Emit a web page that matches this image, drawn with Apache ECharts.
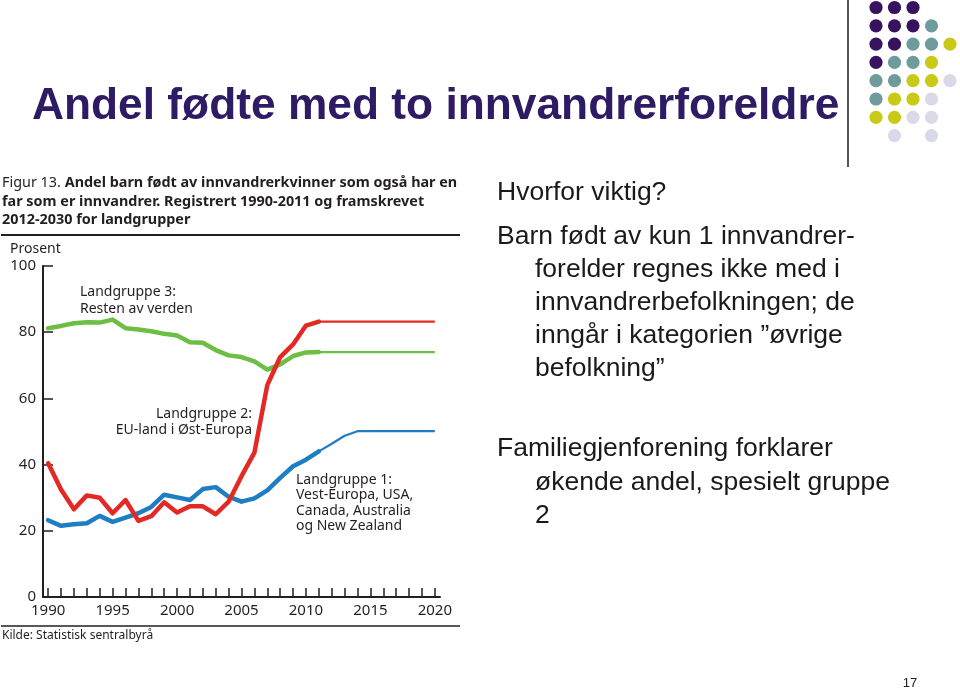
<!DOCTYPE html>
<html>
<head>
<meta charset="utf-8">
<script src="https://cdn.jsdelivr.net/npm/echarts@6/dist/echarts.min.js"></script>
<style>
html,body{margin:0;padding:0;background:#fff;}
#c{width:960px;height:690px;}
</style>
</head>
<body>
<div id="c"></div>
<script>
// ---- data ----
const histYears = [1990,1991,1992,1993,1994,1995,1996,1997,1998,1999,2000,2001,2002,2003,2004,2005,2006,2007,2008,2009,2010,2011];
const group1Hist = [23.2,21.5,22.0,22.3,24.5,22.7,24.0,25.3,27.2,30.9,30.1,29.3,32.6,33.2,30.3,28.8,29.8,32.2,36.0,39.5,41.5,44.0];
const group2Hist = [40.4,32.5,26.5,30.7,30.0,25.3,29.3,23.0,24.4,28.6,25.5,27.4,27.4,25.0,28.8,36.5,43.6,64.0,72.5,76.3,82.0,83.2];
const group3Hist = [81.2,81.9,82.7,83.0,82.9,83.8,81.2,80.8,80.3,79.5,79.0,77.0,76.8,74.6,73.0,72.5,71.2,68.7,70.3,72.8,73.9,74.0];
const projYears = [2011,2012,2013,2014,2015,2016,2017,2018,2019,2020];
const group1Proj = [44.0,46.3,48.7,50.1,50.1,50.1,50.1,50.1,50.1,50.1];
const group2Proj = [83.2,83.2,83.2,83.2,83.2,83.2,83.2,83.2,83.2,83.2];
const group3Proj = [74.0,74.0,74.0,74.0,74.0,74.0,74.0,74.0,74.0,74.0];
const xLabelYears = [1990,1995,2000,2005,2010,2015,2020];
const xTickYears = [1990,1991,1992,1993,1994,1995,1996,1997,1998,1999,2000,2001,2002,2003,2004,2005,2006,2007,2008,2009,2010,2011,2012,2013,2014,2015,2016,2017,2018,2019,2020];

const pairs = (xs, ys) => xs.map((x, i) => [x, ys[i]]);

const RED = '#E42823', GREEN = '#6CBE45', BLUE = '#1F7DC3';
const INK = '#231f20';
const CF = 'Noto Sans';
const SF = 'Liberation Sans';

// decorative dot grid (top right)
const P = '#37135F', T = '#6F9B9C', Y = '#C9C917', L = '#D9D9E8';
const dotRows = [
  [P,P,P,null,null],
  [P,P,P,T,null],
  [P,P,T,T,Y],
  [P,T,T,Y,null],
  [T,T,Y,Y,L],
  [T,Y,Y,L,null],
  [Y,Y,L,L,null],
  [null,L,null,L,null]
];
const dotEls = [];
dotRows.forEach((row, r) => row.forEach((c, k) => {
  if (c) dotEls.push({type:'circle', shape:{cx:876 + k*18.5, cy:7.5 + r*18.3, r:6.6}, style:{fill:c}});
}));

function txt(x, y, text, size, opts) {
  return {type:'text', x:x, y:y, style:Object.assign({text:text, fontSize:size, fontFamily:CF, fill:INK, verticalAlign:'middle', align:'left'}, opts || {})};
}
function stxt(x, y, text) {
  return {type:'text', x:x, y:y, style:{text:text, fontSize:26.5, fontFamily:SF, fill:'#1a1a1a', verticalAlign:'middle', align:'left'}};
}

const chart = echarts.init(document.getElementById('c'));
chart.setOption({
  backgroundColor:'#ffffff',
  animation:false,
  grid:{left:43, right:520, top:266, bottom:93, containLabel:false},
  xAxis:{
    type:'value', min:1989.6, max:2020.4,
    axisLine:{show:true, onZero:false, lineStyle:{color:INK, width:2}},
    axisTick:{show:true, inside:true, length:9, customValues:xTickYears, lineStyle:{color:INK, width:1.5}},
    axisLabel:{show:true, customValues:xLabelYears, margin:6, fontSize:15, fontFamily:CF, color:INK, formatter:v=>String(v)},
    splitLine:{show:false}
  },
  yAxis:{
    type:'value', min:0, max:100, interval:20,
    axisLine:{show:true, lineStyle:{color:INK, width:2}},
    axisTick:{show:true, inside:true, length:10, lineStyle:{color:INK, width:1.5}},
    axisLabel:{margin:7, fontSize:15, fontFamily:CF, color:INK},
    splitLine:{show:false}
  },
  series:[
    {type:'line', data:pairs(projYears, group3Proj), symbol:'none', lineStyle:{color:GREEN, width:2.2}, z:2},
    {type:'line', data:pairs(projYears, group2Proj), symbol:'none', lineStyle:{color:RED, width:2.2}, z:2},
    {type:'line', data:pairs(projYears, group1Proj), symbol:'none', lineStyle:{color:BLUE, width:2.2}, z:2},
    {type:'line', data:pairs(histYears, group3Hist), symbol:'none', lineStyle:{color:GREEN, width:4.5, join:'round', cap:'round'}, z:3},
    {type:'line', data:pairs(histYears, group1Hist), symbol:'none', lineStyle:{color:BLUE, width:4.5, join:'round', cap:'round'}, z:4},
    {type:'line', data:pairs(histYears, group2Hist), symbol:'none', lineStyle:{color:RED, width:4.5, join:'round', cap:'round'}, z:5}
  ],
  graphic:[
    {type:'text', x:32, y:107, style:{text:'Andel fødte med to innvandrerforeldre', fontSize:44.3, fontWeight:'bold', fontFamily:SF, fill:'#2E1B63', verticalAlign:'middle'}},
    {type:'line', shape:{x1:848, y1:0, x2:848, y2:167}, style:{stroke:'#555', lineWidth:2}},
    ...dotEls,
    {type:'text', x:2, y:183, style:{
      text:'{r|Figur 13. }{b|Andel barn født av innvandrerkvinner som også har en}',
      verticalAlign:'middle',
      rich:{r:{fontSize:14.4, fontFamily:CF, fill:INK}, b:{fontSize:14.4, fontFamily:CF, fontWeight:'bold', fill:INK}}
    }},
    txt(2, 202, 'far som er innvandrer. Registrert 1990-2011 og framskrevet', 14.4, {fontWeight:'bold'}),
    txt(2, 220, '2012-2030 for landgrupper', 14.4, {fontWeight:'bold'}),
    {type:'line', shape:{x1:1, y1:235, x2:460, y2:235}, style:{stroke:INK, lineWidth:2}},
    txt(10, 249, 'Prosent', 14),
    txt(80, 292, 'Landgruppe 3:', 14),
    txt(80, 309, 'Resten av verden', 14),
    txt(252, 414, 'Landgruppe 2:', 14, {align:'right'}),
    txt(252, 430, 'EU-land i Øst-Europa', 14, {align:'right'}),
    txt(296, 480, 'Landgruppe 1:', 14),
    txt(296, 495.5, 'Vest-Europa, USA,', 14),
    txt(296, 511, 'Canada, Australia', 14),
    txt(296, 526.5, 'og New Zealand', 14),
    {type:'line', shape:{x1:1, y1:626, x2:460, y2:626}, style:{stroke:INK, lineWidth:1.5}},
    txt(2, 636, 'Kilde: Statistisk sentralbyrå', 12),
    stxt(497, 193, 'Hvorfor viktig?'),
    stxt(497, 237, 'Barn født av kun 1 innvandrer-'),
    stxt(535, 270, 'forelder regnes ikke med i'),
    stxt(535, 303, 'innvandrerbefolkningen; de'),
    stxt(535, 336, 'inngår i kategorien \u201Døvrige'),
    stxt(535, 369, 'befolkning\u201D'),
    stxt(497, 449, 'Familiegjenforening forklarer'),
    stxt(535, 483, 'økende andel, spesielt gruppe'),
    stxt(535, 516, '2'),
    {type:'text', x:910, y:683, style:{text:'17', fontSize:13, fontFamily:SF, fill:'#222', align:'center', verticalAlign:'middle'}}
  ]
});
</script>
</body>
</html>
